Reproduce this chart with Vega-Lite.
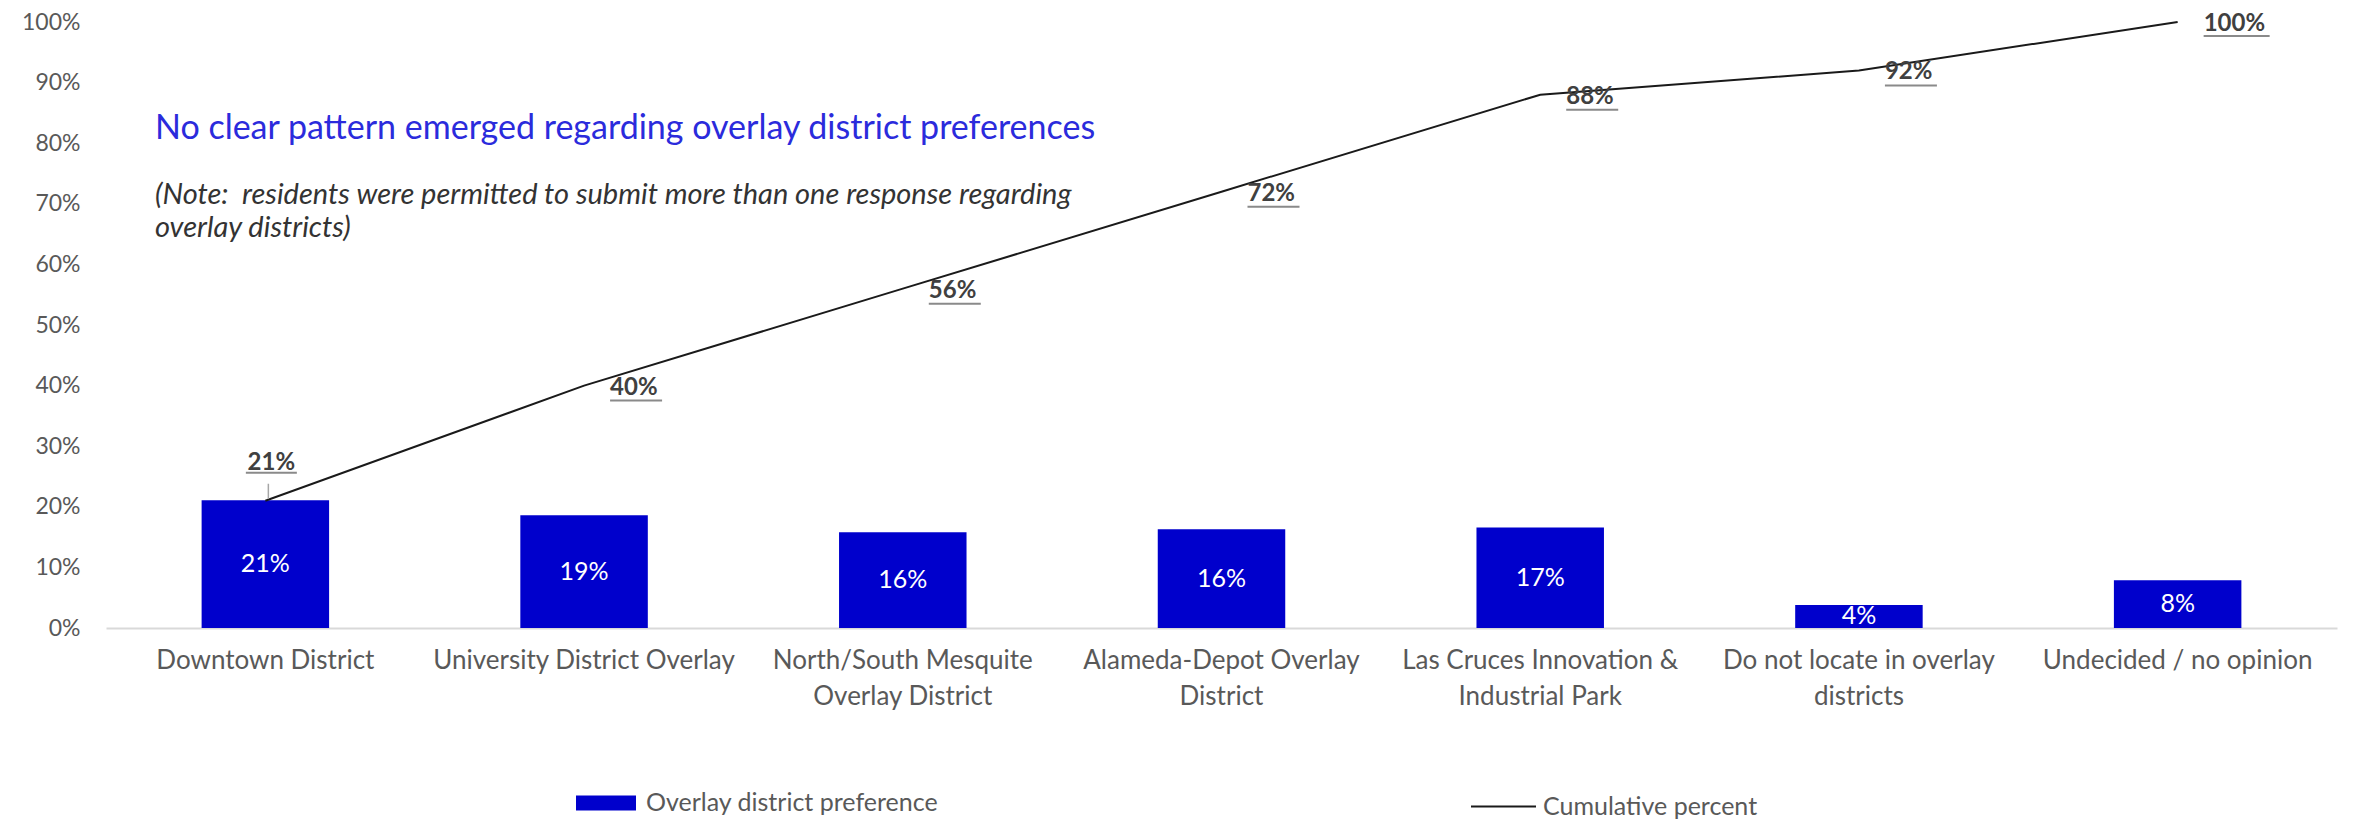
{
  "$schema": "https://vega.github.io/schema/vega-lite/v6.json",
  "autosize": {"type": "none"},
  "padding": {"left": 106, "top": 22, "right": 19, "bottom": 196},
  "width": 2231,
  "height": 606,
  "background": "white",
  "config": {
    "font": "Lato",
    "view": {"stroke": null}
  },
  "title": {
    "text": "No clear pattern emerged regarding overlay district preferences",
    "subtitle": ["(Note:\u00a0 residents were permitted to submit more than one response regarding", "overlay districts)"],
    "anchor": "start",
    "frame": "group",
    "orient": "top",
    "offset": 0,
    "dx": 49,
    "dy": 232,
    "font": "Lato",
    "fontSize": 34,
    "fontWeight": "normal",
    "color": "#2B2BDC",
    "subtitleFont": "Lato",
    "subtitleFontSize": 29,
    "subtitleFontStyle": "italic",
    "subtitleColor": "#333333",
    "subtitleLineHeight": 33,
    "subtitlePadding": 35
  },
  "data": {
    "values": [
      {"cat": "Downtown District", "pct": 0.211, "cum": 0.21},
      {"cat": "University District Overlay", "pct": 0.186, "cum": 0.40},
      {"cat": "North/South Mesquite Overlay District", "pct": 0.158, "cum": 0.56},
      {"cat": "Alameda-Depot Overlay District", "pct": 0.163, "cum": 0.72},
      {"cat": "Las Cruces Innovation & Industrial Park", "pct": 0.166, "cum": 0.88},
      {"cat": "Do not locate in overlay districts", "pct": 0.038, "cum": 0.92},
      {"cat": "Undecided / no opinion", "pct": 0.079, "cum": 1.0}
    ]
  },
  "encoding": {
    "x": {
      "field": "cat",
      "type": "nominal",
      "sort": null,
      "scale": {"paddingInner": 0.6, "paddingOuter": 0.3},
      "axis": {
        "title": null,
        "labelAngle": 0,
        "domainColor": "#d9d9d9",
        "domainWidth": 2,
        "ticks": false,
        "labelPadding": 19,
        "labelFontSize": 26,
        "labelColor": "#595959",
        "labelLineHeight": 36,
        "labelLimit": 400,
        "labelExpr": "datum.value == 'North/South Mesquite Overlay District' ? ['North/South Mesquite', 'Overlay District'] : datum.value == 'Alameda-Depot Overlay District' ? ['Alameda-Depot Overlay', 'District'] : datum.value == 'Las Cruces Innovation & Industrial Park' ? ['Las Cruces Innovation &', 'Industrial Park'] : datum.value == 'Do not locate in overlay districts' ? ['Do not locate in overlay', 'districts'] : datum.value"
      }
    }
  },
  "layer": [
    {
      "mark": {"type": "bar"},
      "encoding": {
        "y": {
          "field": "pct",
          "type": "quantitative",
          "scale": {"domain": [0, 1], "nice": false},
          "axis": {
            "title": null,
            "values": [0, 0.1, 0.2, 0.3, 0.4, 0.5, 0.6, 0.7, 0.8, 0.9, 1.0],
            "format": ".0%",
            "domain": false,
            "ticks": false,
            "grid": false,
            "labelPadding": 26,
            "labelFontSize": 23,
            "labelColor": "#595959"
          }
        },
        "color": {
          "datum": "Overlay district preference",
          "scale": {"range": ["#0000CC"]},
          "legend": {
            "title": null,
            "orient": "none",
            "legendX": 470,
            "legendY": 751,
            "symbolType": "M-1,-0.25L1,-0.25L1,0.25L-1,0.25Z",
            "symbolSize": 3600,
            "symbolStrokeWidth": 0,
            "labelFontSize": 25,
            "labelColor": "#595959",
            "labelOffset": 10,
            "labelLimit": 500
          }
        }
      }
    },
    {
      "transform": [{"calculate": "datum.pct / 2", "as": "mid"}],
      "mark": {"type": "text", "color": "white", "fontSize": 25, "baseline": "middle", "align": "center"},
      "encoding": {
        "y": {"field": "mid", "type": "quantitative"},
        "text": {"field": "pct", "type": "quantitative", "format": ".0%"}
      }
    },
    {
      "mark": {"type": "line", "strokeWidth": 2},
      "encoding": {
        "y": {"field": "cum", "type": "quantitative"},
        "stroke": {
          "datum": "Cumulative percent",
          "scale": {"range": ["#1a1a1a"]},
          "legend": {
            "title": null,
            "orient": "none",
            "legendX": 1364,
            "legendY": 751,
            "symbolType": "stroke",
            "symbolSize": 4225,
            "symbolStrokeWidth": 2,
            "labelFontSize": 25,
            "labelColor": "#595959",
            "labelOffset": 6,
            "labelLimit": 500
          }
        }
      }
    },
    {
      "transform": [{"filter": "datum.cum > 0.3"}],
      "mark": {"type": "text", "align": "left", "baseline": "middle", "dx": 26, "dy": 2, "fontSize": 24, "fontWeight": "bold", "color": "#404040"},
      "encoding": {
        "y": {"field": "cum", "type": "quantitative"},
        "text": {"field": "cum", "type": "quantitative", "format": ".0%"}
      }
    },
    {
      "transform": [{"filter": "datum.cum > 0.3 && datum.cum < 0.99"}],
      "mark": {"type": "tick", "orient": "horizontal", "size": 52, "thickness": 2, "xOffset": 52, "yOffset": 15, "color": "#595959"},
      "encoding": {
        "y": {"field": "cum", "type": "quantitative"}
      }
    },
    {
      "transform": [{"filter": "datum.cum >= 0.99"}],
      "mark": {"type": "tick", "orient": "horizontal", "size": 66, "thickness": 2, "xOffset": 59, "yOffset": 14, "color": "#595959"},
      "encoding": {
        "y": {"field": "cum", "type": "quantitative"}
      }
    },
    {
      "transform": [{"filter": "datum.cum < 0.3"}],
      "mark": {"type": "text", "align": "center", "baseline": "middle", "dx": 6, "dy": -38, "fontSize": 24, "fontWeight": "bold", "color": "#404040"},
      "encoding": {
        "y": {"field": "cum", "type": "quantitative"},
        "text": {"field": "cum", "type": "quantitative", "format": ".0%"}
      }
    },
    {
      "transform": [{"filter": "datum.cum < 0.3"}],
      "mark": {"type": "tick", "orient": "horizontal", "size": 51, "thickness": 2, "xOffset": 6, "yOffset": -28, "color": "#595959"},
      "encoding": {
        "y": {"field": "cum", "type": "quantitative"}
      }
    },
    {
      "transform": [{"filter": "datum.cum < 0.3"}],
      "mark": {"type": "rule", "strokeWidth": 1.5, "color": "#a6a6a6", "xOffset": 3, "yOffset": -2, "y2Offset": -17},
      "encoding": {
        "y": {"field": "cum", "type": "quantitative"},
        "y2": {"field": "cum"}
      }
    }
  ]
}
